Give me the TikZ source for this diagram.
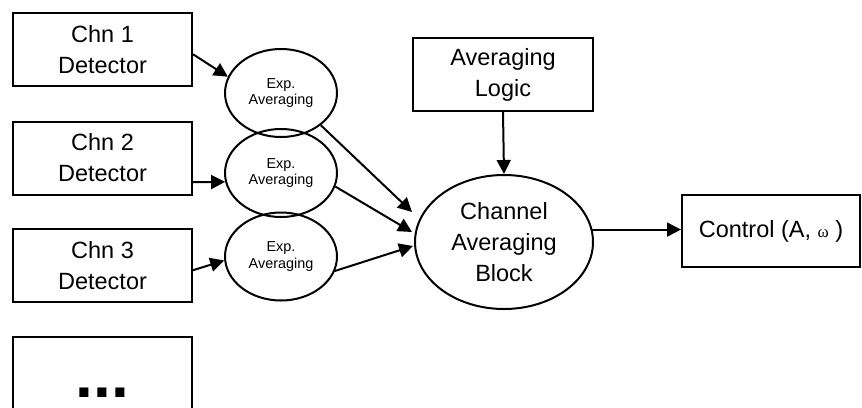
\documentclass[tikz,border=0pt]{standalone}
\usepackage{fontspec}
\setmainfont{Liberation Sans}
\newfontfamily\omegafont{Liberation Serif}
\usetikzlibrary{arrows.meta,calc,shapes.geometric}
\begin{document}
\begin{tikzpicture}[x=1pt,y=-1pt,
  box/.style={draw, line width=2pt, minimum width=179pt, minimum height=73pt, inner sep=0pt, align=center, font=\fontsize{23.5}{31}\selectfont},
  avg/.style={draw, ellipse, line width=2pt, minimum width=112pt, minimum height=88pt, inner sep=0pt, align=center, font=\fontsize{14.4}{16.5}\selectfont},
  arr/.style={line width=2pt, -{Triangle[length=14pt,width=14pt]}}]
\useasboundingbox (0,0) rectangle (862,407);
\fill[white] (0,0) rectangle (862,407);

\node[box] (chn1) at (102.5,49.5) {Chn 1\\Detector};
\node[box] (chn2) at (102.5,158) {Chn 2\\Detector};
\node[box] (chn3) at (102.5,265.5) {Chn 3\\Detector};
\node[box] (dots) at (102.5,373.5) {};
\node[font=\fontsize{64}{64}\bfseries\selectfont, anchor=base, inner sep=0pt] (dotsmark) at (102.5,397) {...};

\node[avg] (e1) at (281,93) {Exp.\\Averaging};
\node[avg] (e2) at (281,173) {Exp.\\Averaging};
\node[avg] (e3) at (281,256.5) {Exp.\\Averaging};

\node[box, minimum width=180pt] (logic) at (503,74.5) {Averaging\\Logic};
\node[draw, ellipse, line width=2pt, minimum width=178pt, minimum height=134pt, inner sep=0pt, align=center, font=\fontsize{23.5}{31}\selectfont] (cab) at (504,242) {Channel\\Averaging\\Block};
\node[box, minimum width=178pt, minimum height=72pt] (ctrl) at (771,231) {Control (A, {\omegafont\fontsize{17}{17}\selectfont ω} )};

\draw[arr] (chn1.-3.5) -- (e1.163);
\draw[arr] (chn2.-15) -- (e2.-171);
\draw[arr] (chn3.-3) -- (e3.-176);

\draw[arr] (e1.-39) -- ($(cab.west)+(-2,-30)$);
\draw[arr] (e2.-14) -- ($(cab.west)+(-2,-10)$);
\draw[arr] (e3.-15) -- ($(cab.west)+(-1,4)$);

\draw[arr] (logic.south) -- (cab.north);
\draw[arr] (cab.8) -- (cab.8 -| ctrl.west);
\end{tikzpicture}
\end{document}
